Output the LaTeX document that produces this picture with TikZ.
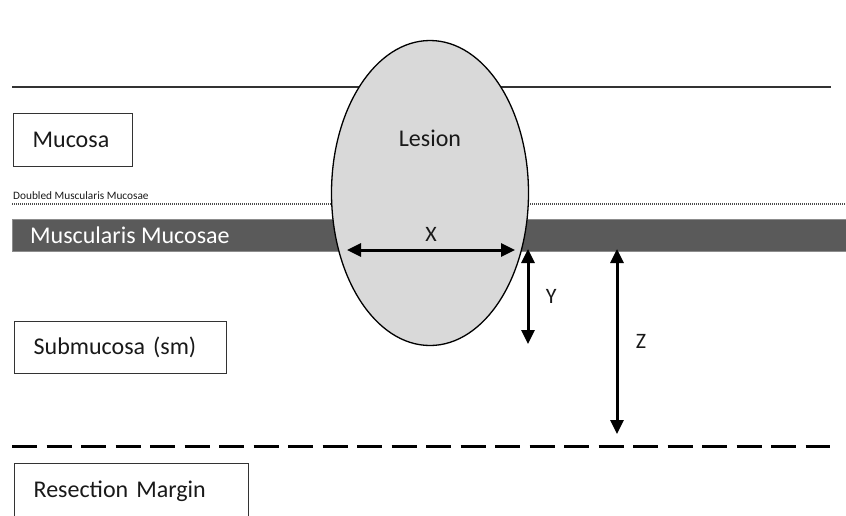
\documentclass[tikz,border=0pt]{standalone}
\usepackage{fontspec}
\setmainfont{Carlito}
\usepackage{tikz}
\usetikzlibrary{shapes.geometric, arrows.meta, positioning, calc}

\definecolor{bandgray}{HTML}{5A5A5A}
\definecolor{lesiongray}{HTML}{D9D9D9}

\begin{document}
\begin{tikzpicture}[x=1pt, y=-1pt,
    layerbox/.style={rectangle, draw=black!80, line width=1.3pt, anchor=north west, align=left, inner xsep=19pt, inner ysep=0pt, font=\fontsize{24}{28}\selectfont, text=black!90},
    lesionshape/.style={ellipse, draw, line width=1.3pt, fill=lesiongray, minimum width=197pt, minimum height=305pt, inner sep=0pt},
    boundary/.style={line width=1.6pt, draw=black!80},
    measure/.style={{Triangle[length=14pt,width=13pt]}-{Triangle[length=14pt,width=13pt]}, line width=3pt},
    lbl/.style={font=\fontsize{22}{26}\selectfont, text=black!90}
]
\useasboundingbox (0,0) rectangle (846,515);

% layer boundaries
\draw[boundary] (12,87) -- (831,87);
\draw[line width=1.6pt, draw=black!70, dash pattern=on 1pt off 1pt] (12,204) -- (846,204);
\node[anchor=base west, inner sep=0pt, font=\fontsize{11.3}{13}\selectfont, text=black!90] (doubled) at (13,199) {Doubled Muscularis Mucosae};
\draw[fill=bandgray, draw=black!45, line width=0.8pt] (12,219) rectangle (847,251);
\node[anchor=west, inner sep=0pt, font=\fontsize{24}{28}\selectfont, text=white] (mm) at (30,235) {Muscularis Mucosae};
\draw[line width=3pt, dash pattern=on 25pt off 9.5pt] (12,446) -- (830,446);

% layer labels
\node[layerbox, minimum height=53pt, text width=81pt] (mucosa) at (13,113) {Mucosa};
\node[layerbox, minimum height=52pt, text width=174pt] (submucosa) at (14,321) {Submucosa (sm)};
\node[layerbox, minimum height=56pt, text width=196pt] (margin) at (14,463) {Resection Margin};

% lesion
\node[lesionshape, font=\fontsize{24}{28}\selectfont, text=black!90, text depth=110pt] (lesion) at (430,193) {Lesion};

% measurements
\coordinate (xleft) at (347,250);
\coordinate (xright) at (515,250);
\coordinate (ytop) at (528,249);
\coordinate (ybot) at (528,344);
\coordinate (ztop) at (617,249);
\coordinate (zbot) at (617,434);

\draw[measure] (xleft) -- node[lbl, above=4pt] {X} (xright);
\draw[measure] (ytop) -- node[lbl, right=13pt] {Y} (ybot);
\draw[measure] (ztop) -- node[lbl, right=14pt] {Z} (zbot);
\end{tikzpicture}
\end{document}
